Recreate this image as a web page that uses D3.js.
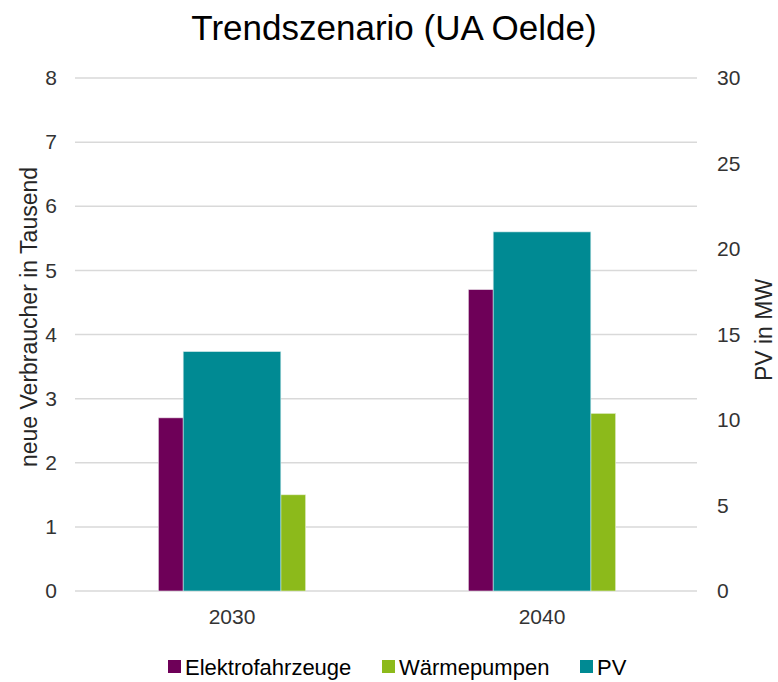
<!DOCTYPE html>
<html>
<head>
<meta charset="utf-8">
<script src="https://cdn.jsdelivr.net/npm/d3@7"></script>
<style>
  body { margin: 0; background: #fff; }
  svg { font-family: "Liberation Sans", Arial, sans-serif; }
</style>
</head>
<body>
<svg id="chart" width="778" height="682"></svg>
<script>
// data
var years = ["2030", "2040"];
var elektro = [2.7, 4.7];        // left axis, thousands
var waerme = [1.5, 2.77];        // left axis, thousands
var pv = [14, 21];               // right axis, MW
var leftTicks = [0, 1, 2, 3, 4, 5, 6, 7, 8];
var rightTicks = [0, 5, 10, 15, 20, 25, 30];

var colElektro = "#6e0058", colWaerme = "#8cba1b", colPV = "#008a93";

var svg = d3.select("#chart");
var plotL = 77, plotR = 697, plotT = 78, plotB = 591;

var x = d3.scaleBand().domain(years).range([plotL, plotR]);
var y = d3.scaleLinear().domain([0, 8]).range([plotB, plotT]);
var y2 = d3.scaleLinear().domain([0, 30]).range([plotB, plotT]);

// gridlines
svg.append("g").selectAll("line")
    .data(leftTicks)
    .enter()
    .append("line")
    .attr("x1", plotL - 2).attr("x2", plotR)
    .attr("y1", function(d) { return y(d); })
    .attr("y2", function(d) { return y(d); })
    .attr("stroke", "#d9d9d9")
    .attr("stroke-width", 1.5);

// bar geometry as fractions of the band
var bw = x.bandwidth();
var smallW = 0.08 * bw, pvW = 0.315 * bw;
function mid(d) { return x(d) + bw / 2; }

var bars = svg.append("g");
bars.selectAll("rect.el")
    .data(elektro)
    .enter()
    .append("rect")
    .attr("class", "el")
    .attr("x", function(d, i) { return mid(years[i]) - pvW / 2 - smallW; })
    .attr("width", smallW)
    .attr("y", function(d) { return y(d); })
    .attr("height", function(d) { return y(0) - y(d); })
    .attr("fill", colElektro)
    .attr("stroke", "#e8dde6").attr("stroke-width", 0.6);

bars.selectAll("rect.wp")
    .data(waerme)
    .enter()
    .append("rect")
    .attr("class", "wp")
    .attr("x", function(d, i) { return mid(years[i]) + pvW / 2; })
    .attr("width", smallW)
    .attr("y", function(d) { return y(d); })
    .attr("height", function(d) { return y(0) - y(d); })
    .attr("fill", colWaerme)
    .attr("stroke", "#e6f0d2").attr("stroke-width", 0.6);

bars.selectAll("rect.pv")
    .data(pv)
    .enter()
    .append("rect")
    .attr("class", "pv")
    .attr("x", function(d, i) { return mid(years[i]) - pvW / 2; })
    .attr("width", pvW)
    .attr("y", function(d) { return y2(d); })
    .attr("height", function(d) { return y2(0) - y2(d); })
    .attr("fill", colPV)
    .attr("stroke", "#d2e9ea").attr("stroke-width", 0.6);

// axes
var leftAxis = svg.append("g")
    .attr("transform", "translate(" + (plotL - 20) + ",0)")
    .call(d3.axisLeft(y).tickValues(leftTicks).tickSize(0).tickPadding(0));
var rightAxis = svg.append("g")
    .attr("transform", "translate(" + (plotR + 20) + ",0)")
    .call(d3.axisRight(y2).tickValues(rightTicks).tickSize(0).tickPadding(0));
var bottomAxis = svg.append("g")
    .attr("transform", "translate(0," + (plotB + 14) + ")")
    .call(d3.axisBottom(x).tickSize(0).tickPadding(4));

[leftAxis, rightAxis, bottomAxis].forEach(function(a) {
    a.select(".domain").remove();
    a.selectAll("text")
        .attr("font-family", "Liberation Sans, Arial, sans-serif")
        .attr("font-size", 21)
        .attr("fill", "#333");
});

// title
svg.append("text")
    .attr("x", 394).attr("y", 40)
    .attr("text-anchor", "middle")
    .attr("font-size", 35)
    .attr("fill", "#000")
    .text("Trendszenario (UA Oelde)");

// axis titles
svg.append("text")
    .attr("transform", "translate(37,317) rotate(-90)")
    .attr("text-anchor", "middle")
    .attr("font-size", 23)
    .attr("fill", "#262626")
    .text("neue Verbraucher in Tausend");

svg.append("text")
    .attr("transform", "translate(772,330) rotate(-90)")
    .attr("text-anchor", "middle")
    .attr("font-size", 23)
    .attr("fill", "#262626")
    .text("PV in MW");

// legend
var legendItems = [
    { name: "Elektrofahrzeuge", color: colElektro, x: 168 },
    { name: "Wärmepumpen", color: colWaerme, x: 382 },
    { name: "PV", color: colPV, x: 580 }
];
var lg = svg.append("g").selectAll("g")
    .data(legendItems)
    .enter()
    .append("g")
    .attr("transform", function(d) { return "translate(" + d.x + ",660)"; });
lg.append("rect")
    .attr("width", 13).attr("height", 13)
    .attr("fill", function(d) { return d.color; });
lg.append("text")
    .attr("x", 17).attr("y", 15)
    .attr("font-size", 22)
    .attr("fill", "#000")
    .text(function(d) { return d.name; });
</script>
</body>
</html>
